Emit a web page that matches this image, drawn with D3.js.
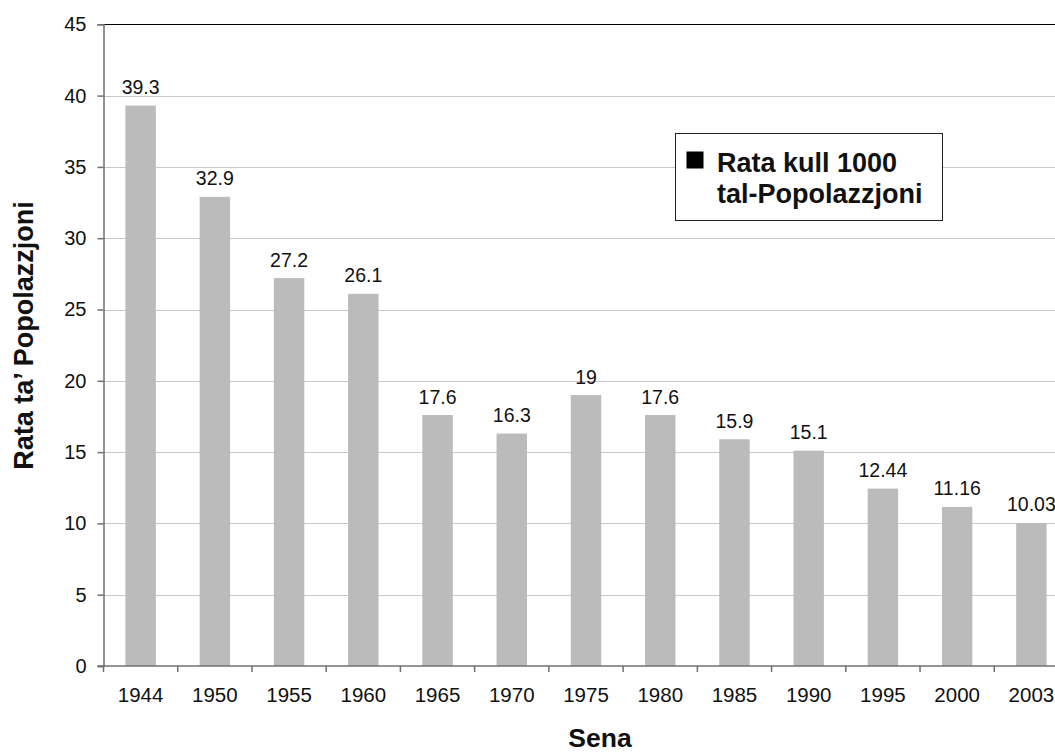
<!DOCTYPE html>
<html>
<head>
<meta charset="utf-8">
<script src="https://cdn.jsdelivr.net/npm/d3@7"></script>
<style>
  html, body { margin: 0; padding: 0; background: #fff; }
  svg { display: block; font-family: "Liberation Sans", Arial, sans-serif; }
</style>
</head>
<body>
<svg id="chart" width="1055" height="753"></svg>
<script>
const years = ["1944","1950","1955","1960","1965","1970","1975","1980","1985","1990","1995","2000","2003"];
const values = [39.3, 32.9, 27.2, 26.1, 17.6, 16.3, 19, 17.6, 15.9, 15.1, 12.44, 11.16, 10.03];
const valueLabels = ["39.3","32.9","27.2","26.1","17.6","16.3","19","17.6","15.9","15.1","12.44","11.16","10.03"];
const yTicks = [0, 5, 10, 15, 20, 25, 30, 35, 40, 45];
const legendLines = ["Rata kull 1000", "tal-Popolazzjoni"];
const yTitle = "Rata ta\u2019 Popolazzjoni";
const xTitle = "Sena";

(function () {
const svg = d3.select("#chart");
const pLeft = 103.5, pRight = 1068.5, pTop = 24.3, pBottom = 666;

const x = d3.scaleBand().domain(years).range([pLeft, pRight]).paddingInner(0.59).paddingOuter(0.295);
const y = d3.scaleLinear().domain([0, 45]).range([pBottom, pTop]);

// gridlines
svg.append("g").selectAll("line").data(yTicks.filter(t => t > 0)).join("line")
  .attr("x1", pLeft).attr("x2", pRight)
  .attr("y1", d => Math.round(y(d)) + 0.5).attr("y2", d => Math.round(y(d)) + 0.5)
  .attr("stroke", d => d === 45 ? "#000" : "#c8c8c8").attr("stroke-width", 1);

// bars
svg.append("g").selectAll("rect").data(values).join("rect")
  .attr("x", (d, i) => x(years[i]))
  .attr("width", x.bandwidth())
  .attr("y", d => y(d))
  .attr("height", d => y(0) - y(d))
  .attr("fill", "#bbbbbb");

// data labels
svg.append("g").selectAll("text").data(values).join("text")
  .attr("x", (d, i) => x(years[i]) + x.bandwidth() / 2)
  .attr("y", d => y(d) - 11.5)
  .attr("text-anchor", "middle")
  .attr("font-size", "19.5px")
  .attr("fill", "#111")
  .text((d, i) => valueLabels[i]);

// y axis
const yAxis = d3.axisLeft(y).tickValues(yTicks).tickSize(6).tickPadding(11).tickFormat(d3.format("d"));
const gy = svg.append("g").attr("transform", `translate(${pLeft},0)`).call(yAxis);
gy.select(".domain").attr("stroke", "#707070").attr("stroke-width", 1.5);
gy.selectAll(".tick line").attr("stroke", "#707070").attr("stroke-width", 1.5);
gy.selectAll(".tick text").attr("font-size", "20px").attr("fill", "#111").attr("font-family", "Liberation Sans, Arial, sans-serif");

// x axis baseline and ticks at band boundaries
const step = x.step();
const boundaries = d3.range(years.length + 1).map(i => pLeft + i * step);
svg.append("line").attr("x1", pLeft - 6).attr("x2", pRight).attr("y1", pBottom).attr("y2", pBottom)
  .attr("stroke", "#707070").attr("stroke-width", 1.5);
svg.append("g").selectAll("line").data(boundaries).join("line")
  .attr("x1", d => d).attr("x2", d => d).attr("y1", pBottom).attr("y2", pBottom + 6)
  .attr("stroke", "#707070").attr("stroke-width", 1.5);
svg.append("g").selectAll("text").data(years).join("text")
  .attr("x", d => x(d) + x.bandwidth() / 2)
  .attr("y", 702)
  .attr("text-anchor", "middle")
  .attr("font-size", "20.5px")
  .attr("fill", "#111")
  .text(d => d);

// axis titles
svg.append("text")
  .attr("transform", "translate(33,335.5) rotate(-90)")
  .attr("text-anchor", "middle")
  .attr("font-size", "27px").attr("font-weight", "bold").attr("fill", "#111")
  .text(yTitle);
svg.append("text")
  .attr("x", 600).attr("y", 747)
  .attr("text-anchor", "middle")
  .attr("font-size", "26.5px").attr("font-weight", "bold").attr("fill", "#111")
  .text(xTitle);

// legend
const lg = svg.append("g");
lg.append("rect").attr("x", 675.5).attr("y", 133.5).attr("width", 267).attr("height", 87)
  .attr("fill", "#fff").attr("stroke", "#222").attr("stroke-width", 1);
lg.append("rect").attr("x", 686.5).attr("y", 151.5).attr("width", 17).attr("height", 17).attr("fill", "#000");
lg.selectAll("text").data(legendLines).join("text")
  .attr("x", 717).attr("y", (d, i) => 171.5 + i * 31)
  .attr("font-size", "27px").attr("font-weight", "bold").attr("fill", "#111")
  .text(d => d);
})();
</script>
</body>
</html>
